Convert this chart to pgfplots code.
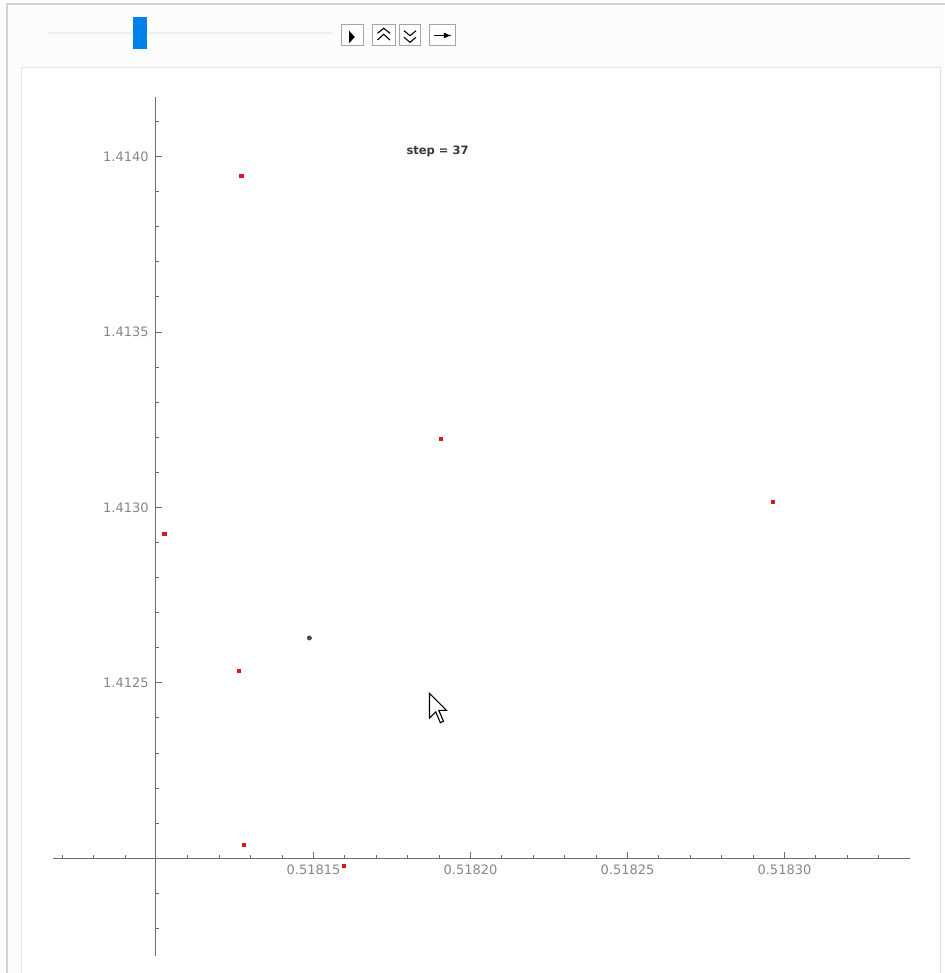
\documentclass[border=0pt]{standalone}
\usepackage{fontspec}
\setmainfont{DejaVu Sans}
\usepackage{pgfplots}
\pgfplotsset{compat=1.18}

\definecolor{pagebg}{RGB}{252,252,251}
\definecolor{frameline}{RGB}{208,212,212}
\definecolor{panelline}{RGB}{228,228,228}
\definecolor{sliderblue}{RGB}{0,128,235}
\definecolor{tracklight}{RGB}{236,241,241}
\definecolor{btnline}{RGB}{165,165,165}
\definecolor{axisgray}{RGB}{110,110,110}
\definecolor{ticklabel}{RGB}{135,135,135}
\definecolor{ptred}{RGB}{220,20,35}
\definecolor{ptdark}{RGB}{70,70,70}
\definecolor{steptext}{RGB}{55,55,55}

% offset-and-scale in floating point, returned as a plain fixed-point number
\newcommand\shiftscale[3]{%
  \begingroup
  \pgfkeys{/pgf/fpu=true,/pgf/fpu/output format=fixed}%
  \pgfmathparse{(#1-#2)*#3}%
  \global\let\shiftscaleresult\pgfmathresult
  \endgroup
  \let\pgfmathresult\shiftscaleresult}

\begin{document}
\begin{tikzpicture}[x=1pt,y=1pt]
  \path[use as bounding box, fill=pagebg] (0,0) rectangle (944,973);

  % outer frame and inner panel
  \draw[frameline, line width=2pt] (7,-2) -- (7,969) -- (946,969);
  \fill[white] (21,-2) rectangle (940.5,905);
  \draw[panelline, line width=1pt] (21,-2) -- (21,905) -- (940.5,905) -- (940.5,-2);

  % slider
  \draw[tracklight, line width=2pt] (47,940) -- (333,940);
  \fill[sliderblue] (132.7,923.7) rectangle (146.7,955.7);

  % control buttons
  \begin{scope}[line width=0.8pt]
    \draw[btnline, fill=white] (341.7,927.3) rectangle (363.3,949);
    \fill[black] (349,942.3) -- (349,929.7) -- (354.8,936) -- cycle;
    \draw[btnline, fill=white] (372.3,927.3) rectangle (395,949);
    \draw[black, line width=1.1pt] (377.5,939.7) -- (383.7,944.7) -- (390,939.7);
    \draw[black, line width=1.1pt] (377.5,933) -- (383.7,938.7) -- (390,933);
    \draw[btnline, fill=white] (399.3,927.3) rectangle (420.7,949);
    \draw[black, line width=1.1pt] (404,942.3) -- (410,937.3) -- (416,942.3);
    \draw[black, line width=1.1pt] (404,935.7) -- (410,930.7) -- (416,935.7);
    \draw[btnline, fill=white] (429.3,927.3) rectangle (455,949);
    \draw[black, line width=1.6pt, -latex] (434,937.5) -- (451.5,937.5);
  \end{scope}

  \begin{axis}[
    at={(53pt,17pt)}, anchor=south west,
    scale only axis, width=857pt, height=859.3pt,
    % the range is tiny compared with the values: work relative to the axes' crossing point
    x coord trafo/.code={\shiftscale{#1}{0.5181}{100000}},
    y coord trafo/.code={\shiftscale{#1}{1.412}{10000}},
    xmin=0.518067, xmax=0.51834,
    ymin=1.4117215, ymax=1.414171,
    axis x line=bottom, axis y line=left,
    axis x line shift=-97.7pt, axis y line shift=-102.7pt,
    axis line style={-, draw=axisgray, line width=1.1pt},
    tick align=inside,
    xtick={0.51815,0.5182,0.51825,0.5183},
    xticklabels={0.51815,0.51820,0.51825,0.51830},
    minor xtick={0.51807,0.51808,0.51809,0.51811,0.51812,0.51813,0.51814,
                 0.51816,0.51817,0.51818,0.51819,0.51821,0.51822,0.51823,0.51824,
                 0.51826,0.51827,0.51828,0.51829,0.51831,0.51832,0.51833},
    ytick={1.4125,1.413,1.4135,1.414},
    yticklabels={1.4125,1.4130,1.4135,1.4140},
    minor ytick={1.4118,1.4119,1.4121,1.4122,1.4123,1.4124,
                 1.4126,1.4127,1.4128,1.4129,1.4131,1.4132,1.4133,1.4134,
                 1.4136,1.4137,1.4138,1.4139,1.4141},
    major tick length=6pt, minor tick length=3pt,
    every tick/.style={draw=axisgray, line width=1pt},
    tick label style={font=\fontsize{13}{13}\selectfont, text=ticklabel},
    xticklabel style={yshift=-3pt},
    yticklabel style={xshift=-3.5pt},
    /pgf/number format/assume math mode=true,
    clip=false,
  ]
    % iterates of the map
    \addplot[only marks, mark=square*, mark size=1.6pt, color=ptred] coordinates {
      (0.51812697, 1.4139464)
      (0.51819059, 1.4131967)
      (0.51829618, 1.4130171)
      (0.51810240, 1.4129264)
      (0.51812627, 1.4125339)
      (0.51812777, 1.4120388)
      (0.51815967, 1.4119800)
    };
    % current point
    \addplot[only marks, mark=*, mark size=2.2pt, color=ptdark] coordinates {
      (0.51814866, 1.4126280)
    };
    \node[font=\fontsize{11.5}{11.5}\selectfont\bfseries, text=steptext]
      at (axis cs:0.5181895,1.414016) {step = 37};
  \end{axis}

  % mouse pointer
  \draw[black, fill=white, line width=1.1pt, line join=miter]
    (429.5,279.7) -- (429.5,254.9) -- (435.7,261.1) -- (440.35,250.25)
    -- (443.45,251.8) -- (438.8,262.65) -- (446.55,262.65) -- cycle;
\end{tikzpicture}
\end{document}
